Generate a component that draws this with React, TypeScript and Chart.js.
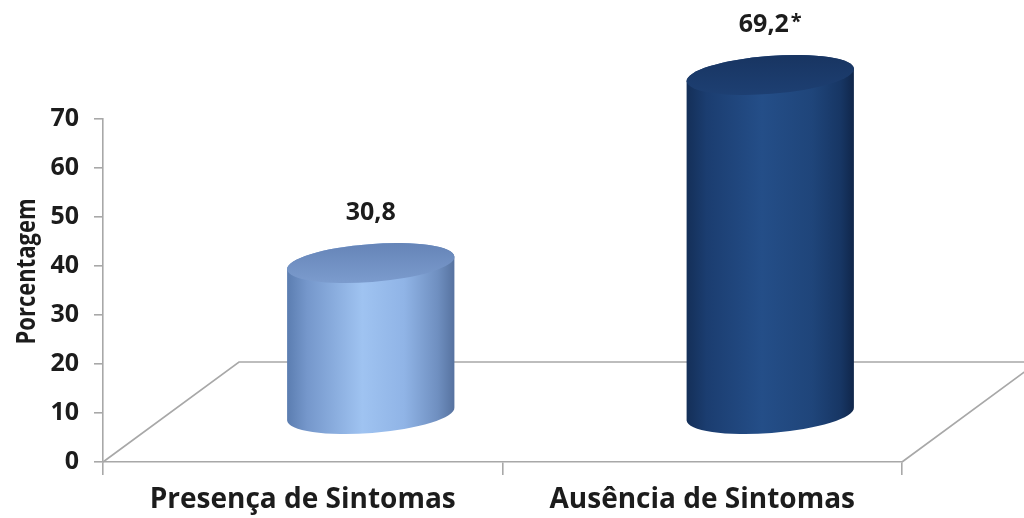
import React, { useEffect, useRef } from "react";
import { Chart, registerables } from "chart.js";

Chart.register(...registerables);

const categories = ["Presença de Sintomas", "Ausência de Sintomas"];
const values = [30.8, 69.2];
const significance = ["", "*"];
const yTicks = [0, 10, 20, 30, 40, 50, 60, 70];
const yAxisTitle = "Porcentagem";

const FONT = "'Open Sans', Lato, sans-serif";
const TEXT = "#1c1c1c";
const LINE = "#a8a8a8";

const FLOOR_DX = 136;
const FLOOR_DY = -100;
const CYL_DX = 68;
const CYL_DY = -48;
const ELL_RY = 19;
const ELL_ROT = -0.077;

const palettes = [
  {
    body: [
      [0, "#5b7db0"],
      [0.12, "#7597cb"],
      [0.45, "#9fc3f1"],
      [0.7, "#90b4e6"],
      [0.9, "#6f8fc0"],
      [1, "#56729f"],
    ],
    top: ["#6685b8", "#7b9bcd"],
  },
  {
    body: [
      [0, "#142f58"],
      [0.12, "#1b3d70"],
      [0.45, "#244e88"],
      [0.75, "#1f457a"],
      [0.92, "#173664"],
      [1, "#10264a"],
    ],
    top: ["#183562", "#1d3f72"],
  },
];

function formatValue(v: number) {
  return v.toFixed(1).replace(".", ",");
}

const cylinderPlugin = {
  id: "cylinders",
  beforeDatasetsDraw(chart: any) {
    const { ctx, chartArea: a } = chart;
    ctx.save();
    // floor
    ctx.strokeStyle = LINE;
    ctx.lineWidth = 1.6;
    ctx.beginPath();
    ctx.moveTo(a.left, a.bottom);
    ctx.lineTo(a.left + FLOOR_DX, a.bottom + FLOOR_DY);
    ctx.lineTo(a.right + FLOOR_DX, a.bottom + FLOOR_DY);
    ctx.lineTo(a.right, a.bottom);
    ctx.stroke();

    const y = chart.scales.y;
    const meta = chart.getDatasetMeta(0);
    meta.data.forEach((bar: any, i: number) => {
      const { x, width } = bar.getProps(["x", "width"], true);
      const cx = x + CYL_DX;
      const rx = width / 2;
      const base = y.getPixelForValue(0) + CYL_DY;
      const top = y.getPixelForValue(values[i]) + CYL_DY;
      const pal = palettes[i % palettes.length];

      const grad = ctx.createLinearGradient(cx - rx, 0, cx + rx, 0);
      pal.body.forEach(([o, c]: any) => grad.addColorStop(o, c));
      ctx.beginPath();
      ctx.ellipse(cx, base, rx, ELL_RY, ELL_ROT, 0, Math.PI, false);
      ctx.ellipse(cx, top, rx, ELL_RY, ELL_ROT, Math.PI, 2 * Math.PI, false);
      ctx.closePath();
      ctx.fillStyle = grad;
      ctx.fill();

      const tg = ctx.createLinearGradient(cx, top - ELL_RY, cx, top + ELL_RY);
      tg.addColorStop(0, pal.top[0]);
      tg.addColorStop(1, pal.top[1]);
      ctx.beginPath();
      ctx.ellipse(cx, top, rx, ELL_RY, ELL_ROT, 0, 2 * Math.PI);
      ctx.fillStyle = tg;
      ctx.fill();

      // value label (with optional significance marker)
      ctx.fillStyle = TEXT;
      ctx.font = `bold 25px ${FONT}`;
      ctx.textBaseline = "middle";
      const main = formatValue(values[i]);
      const mark = significance[i];
      ctx.font = `bold 25px ${FONT}`;
      const wMain = ctx.measureText(main).width;
      ctx.font = `bold 20px ${FONT}`;
      const wMark = mark ? ctx.measureText(mark).width + 2 : 0;
      const startX = cx - (wMain + wMark) / 2;
      const ly = top - ELL_RY - 31;
      ctx.textAlign = "left";
      ctx.font = `bold 25px ${FONT}`;
      ctx.fillText(main, startX, ly);
      if (mark) {
        ctx.font = `bold 20px ${FONT}`;
        ctx.fillText(mark, startX + wMain + 2, ly - 3);
      }
    });

    // y axis title
    ctx.save();
    ctx.translate(35, (a.top + a.bottom) / 2 - 19);
    ctx.rotate(-Math.PI / 2);
    ctx.scale(1, 1.25);
    ctx.font = `bold 22px ${FONT}`;
    ctx.fillStyle = TEXT;
    ctx.textAlign = "center";
    ctx.textBaseline = "alphabetic";
    ctx.fillText(yAxisTitle, 0, 0);
    ctx.restore();

    ctx.restore();
  },
};

export default function App() {
  const ref = useRef<HTMLCanvasElement>(null);
  useEffect(() => {
    const canvas = ref.current!;
    const chart = new Chart(canvas, {
      type: "bar",
      data: {
        labels: categories,
        datasets: [
          {
            data: values,
            backgroundColor: "rgba(0,0,0,0)",
            borderWidth: 0,
            barPercentage: 0.525,
            categoryPercentage: 0.8,
          },
        ],
      },
      options: {
        animation: false,
        responsive: false,
        devicePixelRatio: 1,
        layout: { padding: { top: 119, right: 122, left: 0, bottom: 0 } },
        plugins: { legend: { display: false }, tooltip: { enabled: false } },
        scales: {
          x: {
            afterFit: (s: any) => {
              s.height = 56;
            },
            grid: {
              drawOnChartArea: false,
              color: LINE,
              lineWidth: 1.6,
              tickLength: 13,
              offset: true,
            },
            border: { color: LINE, width: 1.6 },
            ticks: {
              color: TEXT,
              font: { family: FONT, size: 28, weight: "bold" },
              padding: 8,
            },
          },
          y: {
            min: yTicks[0],
            max: yTicks[yTicks.length - 1],
            afterFit: (s: any) => {
              s.width = 103;
            },
            afterBuildTicks: (s: any) => {
              s.ticks = yTicks.map((v) => ({ value: v }));
            },
            grid: {
              drawOnChartArea: false,
              color: LINE,
              lineWidth: 1.6,
              tickLength: 9,
            },
            border: { color: LINE, width: 1.6 },
            ticks: {
              color: TEXT,
              font: { family: FONT, size: 25, weight: "bold" },
              padding: 15,
            },
          },
        },
      },
      plugins: [cylinderPlugin],
    });
    return () => chart.destroy();
  }, []);
  return (
    <div style={{ position: "fixed", left: 0, top: 0, width: 1024, height: 518, background: "#fff" }}>
      <canvas ref={ref} width={1024} height={518} style={{ width: 1024, height: 518 }} />
    </div>
  );
}
